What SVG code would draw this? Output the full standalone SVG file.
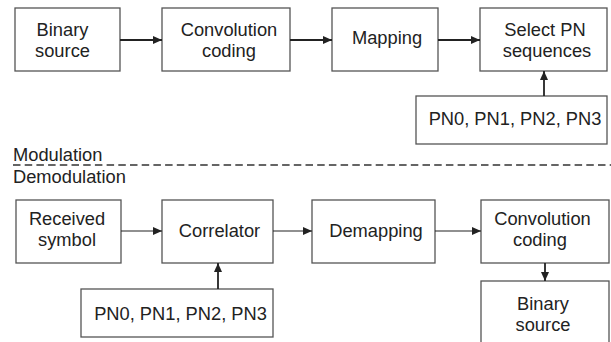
<svg xmlns="http://www.w3.org/2000/svg" width="611" height="342" viewBox="0 0 611 342">
  <defs>
    <style>
      .box { fill: #ffffff; stroke: #555555; stroke-width: 1.3; }
      .lbl { font-family: "Liberation Sans", Arial, sans-serif; font-size: 18.3px; fill: #222222; text-anchor: middle; }
      .sec { font-family: "Liberation Sans", Arial, sans-serif; font-size: 18.3px; fill: #222222; }
      .wire { stroke: #222222; fill: none; }
      .w1 { stroke-width: 1.8; }
      .w2 { stroke-width: 1.2; }
    </style>
    <marker id="arrow" markerWidth="9" markerHeight="8" refX="9" refY="4" orient="auto" markerUnits="userSpaceOnUse">
      <path d="M0,0 L9,4 L0,8 Z" fill="#222222"/>
    </marker>
  </defs>
  <rect width="611" height="342" fill="#ffffff"/>

  <!-- Modulation chain -->
  <g id="mod-binary-source">
    <rect class="box" x="15" y="8" width="105" height="63"/>
    <text class="lbl" x="62.5" y="36">Binary</text>
    <text class="lbl" x="62.5" y="57">source</text>
  </g>
  <g id="mod-convolution-coding">
    <rect class="box" x="162" y="8" width="128" height="63"/>
    <text class="lbl" x="229" y="36">Convolution</text>
    <text class="lbl" x="229" y="57">coding</text>
  </g>
  <g id="mod-mapping">
    <rect class="box" x="332" y="8" width="106" height="63"/>
    <text class="lbl" x="387" y="44">Mapping</text>
  </g>
  <g id="mod-select-pn">
    <rect class="box" x="480" y="8" width="127" height="63"/>
    <text class="lbl" x="545" y="36">Select PN</text>
    <text class="lbl" x="547" y="57">sequences</text>
  </g>
  <g id="mod-pn-set">
    <rect class="box" x="416" y="96" width="191" height="48"/>
    <text class="lbl" x="515" y="125">PN0, PN1, PN2, PN3</text>
  </g>

  <!-- Section divider -->
  <g id="divider">
    <text class="sec" x="13" y="160.5">Modulation</text>
    <line x1="13" y1="165" x2="611" y2="165" stroke="#333333" stroke-width="1.5" stroke-dasharray="7.5,4.2"/>
    <text class="sec" x="13" y="182.5">Demodulation</text>
  </g>

  <!-- Demodulation chain -->
  <g id="demod-received-symbol">
    <rect class="box" x="16" y="200" width="105" height="63"/>
    <text class="lbl" x="67" y="225">Received</text>
    <text class="lbl" x="67" y="246">symbol</text>
  </g>
  <g id="demod-correlator">
    <rect class="box" x="162" y="200" width="111" height="63"/>
    <text class="lbl" x="219.5" y="236.5">Correlator</text>
  </g>
  <g id="demod-pn-set">
    <rect class="box" x="81" y="289" width="192" height="48"/>
    <text class="lbl" x="180.5" y="320">PN0, PN1, PN2, PN3</text>
  </g>
  <g id="demod-demapping">
    <rect class="box" x="312" y="200" width="123" height="63"/>
    <text class="lbl" x="376" y="237">Demapping</text>
  </g>
  <g id="demod-convolution-coding">
    <rect class="box" x="481" y="200" width="128" height="63"/>
    <text class="lbl" x="542.5" y="225">Convolution</text>
    <text class="lbl" x="540" y="246">coding</text>
  </g>
  <g id="demod-binary-source">
    <rect class="box" x="481" y="281" width="128" height="64"/>
    <text class="lbl" x="543" y="310">Binary</text>
    <text class="lbl" x="543" y="331">source</text>
  </g>

  <!-- Connectors -->
  <g id="connectors">
    <line class="wire w1" x1="120" y1="40" x2="162" y2="40" marker-end="url(#arrow)"/>
    <line class="wire w1" x1="290" y1="40" x2="332" y2="40" marker-end="url(#arrow)"/>
    <line class="wire w1" x1="438" y1="40" x2="480" y2="40" marker-end="url(#arrow)"/>
    <line class="wire w1" x1="544" y1="96" x2="544" y2="71" marker-end="url(#arrow)"/>
    <line class="wire w2" x1="121" y1="231" x2="162" y2="231" marker-end="url(#arrow)"/>
    <line class="wire w2" x1="273" y1="231" x2="312" y2="231" marker-end="url(#arrow)"/>
    <line class="wire w2" x1="435" y1="231" x2="481" y2="231" marker-end="url(#arrow)"/>
    <line class="wire w1" x1="218" y1="289" x2="218" y2="263" marker-end="url(#arrow)"/>
    <line class="wire w1" x1="545" y1="263" x2="545" y2="281" marker-end="url(#arrow)"/>
  </g>
</svg>
